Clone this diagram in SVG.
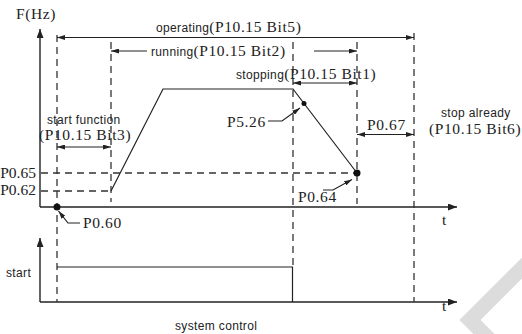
<svg xmlns="http://www.w3.org/2000/svg" width="522" height="334" viewBox="0 0 522 334">
<style>
.ax{stroke:#222;stroke-width:1.4;fill:none}
.ln{stroke:#222;stroke-width:1.2;fill:none}
.ds{stroke:#333;stroke-width:1.3;fill:none;stroke-dasharray:7 5}
.sans{font-family:"Liberation Sans",Arial,sans-serif;font-size:12px;letter-spacing:0.35px;fill:#222}
.ser{font-family:"Liberation Serif","Times New Roman",serif;font-size:15.5px;letter-spacing:0.6px;fill:#222}
</style>
<defs>
<marker id="ah" viewBox="0 0 8 5" refX="8" refY="2.5" markerWidth="8" markerHeight="5" orient="auto-start-reverse" markerUnits="userSpaceOnUse"><path d="M0,0 L8,2.5 L0,5 z" fill="#222"/></marker>
<marker id="axh" viewBox="0 0 9 7" refX="9" refY="3.5" markerWidth="9" markerHeight="7" orient="auto" markerUnits="userSpaceOnUse"><path d="M0,0 L9,3.5 L0,7 z" fill="#222"/></marker>
</defs>
<rect width="522" height="334" fill="#fff"/>
<polyline points="540,250 470,320 490,340" fill="none" stroke="#dcdcdc" stroke-width="15"/>
<g id="axes">
<path class="ax" d="M40,207 V29" marker-end="url(#axh)"/>
<path class="ax" d="M40,207 H457" marker-end="url(#axh)"/>
<path class="ax" d="M40,302 V238" marker-end="url(#axh)"/>
<path class="ax" d="M40,302 H457" marker-end="url(#axh)"/>
<text class="ser" x="16" y="19">F(Hz)</text>
<text class="ser" x="442" y="225">t</text>
<text class="ser" x="442" y="311">t</text>
</g>
<g id="guides">
<path class="ds" d="M57,35 V302"/>
<path class="ds" d="M111,42 V202"/>
<path class="ds" d="M293,42 V266"/>
<path class="ds" d="M357,42 V204"/>
<path class="ds" d="M414,33 V302"/>
<path class="ds" d="M41,173 H357"/>
<path class="ds" d="M41,191 H111"/>
</g>
<g id="curve">
<path class="ln" d="M111,191 L163,89 H293 L357,173"/>
<circle cx="57" cy="207" r="3.5" fill="#111"/>
<circle cx="357" cy="173" r="3.5" fill="#111"/>
<circle cx="304" cy="103.4" r="2.5" fill="#111"/>
</g>
<g id="connectors">
<path class="ln" d="M57,37.5 H414" marker-start="url(#ah)" marker-end="url(#ah)"/>
<path class="ln" d="M147,51 H111" marker-end="url(#ah)"/>
<path class="ln" d="M314,51 H357" marker-end="url(#ah)"/>
<path class="ln" d="M293,83 H357" marker-start="url(#ah)" marker-end="url(#ah)"/>
<path class="ln" d="M57,147 H111" marker-start="url(#ah)" marker-end="url(#ah)"/>
<path class="ln" d="M357,134.5 H414" marker-start="url(#ah)" marker-end="url(#ah)"/>
<path class="ln" d="M80,223 H68 L58.5,211" marker-end="url(#ah)"/>
<path class="ln" d="M268,121 H282 L300,108" marker-end="url(#ah)"/>
<path class="ln" d="M323,190 H333 L352,179.5" marker-end="url(#ah)"/>
<path class="ln" d="M57,267 H292.5 V302"/>
</g>
<g id="labels">
<text x="156" y="32"><tspan class="sans">operating</tspan><tspan class="ser">(P10.15 Bit5)</tspan></text>
<text x="151" y="56"><tspan class="sans">running</tspan><tspan class="ser">(P10.15 Bit2)</tspan></text>
<text x="236" y="79"><tspan class="sans">stopping</tspan><tspan class="ser">(P10.15 Bit1)</tspan></text>
<text class="sans" x="47" y="124">start function</text>
<text class="ser" x="39" y="140">(P10.15 Bit3)</text>
<text class="sans" x="441" y="117">stop already</text>
<text class="ser" x="429" y="134">(P10.15 Bit6)</text>
<text class="ser" x="227" y="127">P5.26</text>
<text class="ser" x="367" y="130">P0.67</text>
<text class="ser" x="298" y="202">P0.64</text>
<text class="ser" x="83" y="228">P0.60</text>
<text class="ser" x="36" y="178" text-anchor="end" style="letter-spacing:0">P0.65</text>
<text class="ser" x="36" y="195" text-anchor="end" style="letter-spacing:0">P0.62</text>
<text class="sans" x="6" y="277">start</text>
<text class="sans" x="175" y="330">system control</text>
</g>
</svg>
